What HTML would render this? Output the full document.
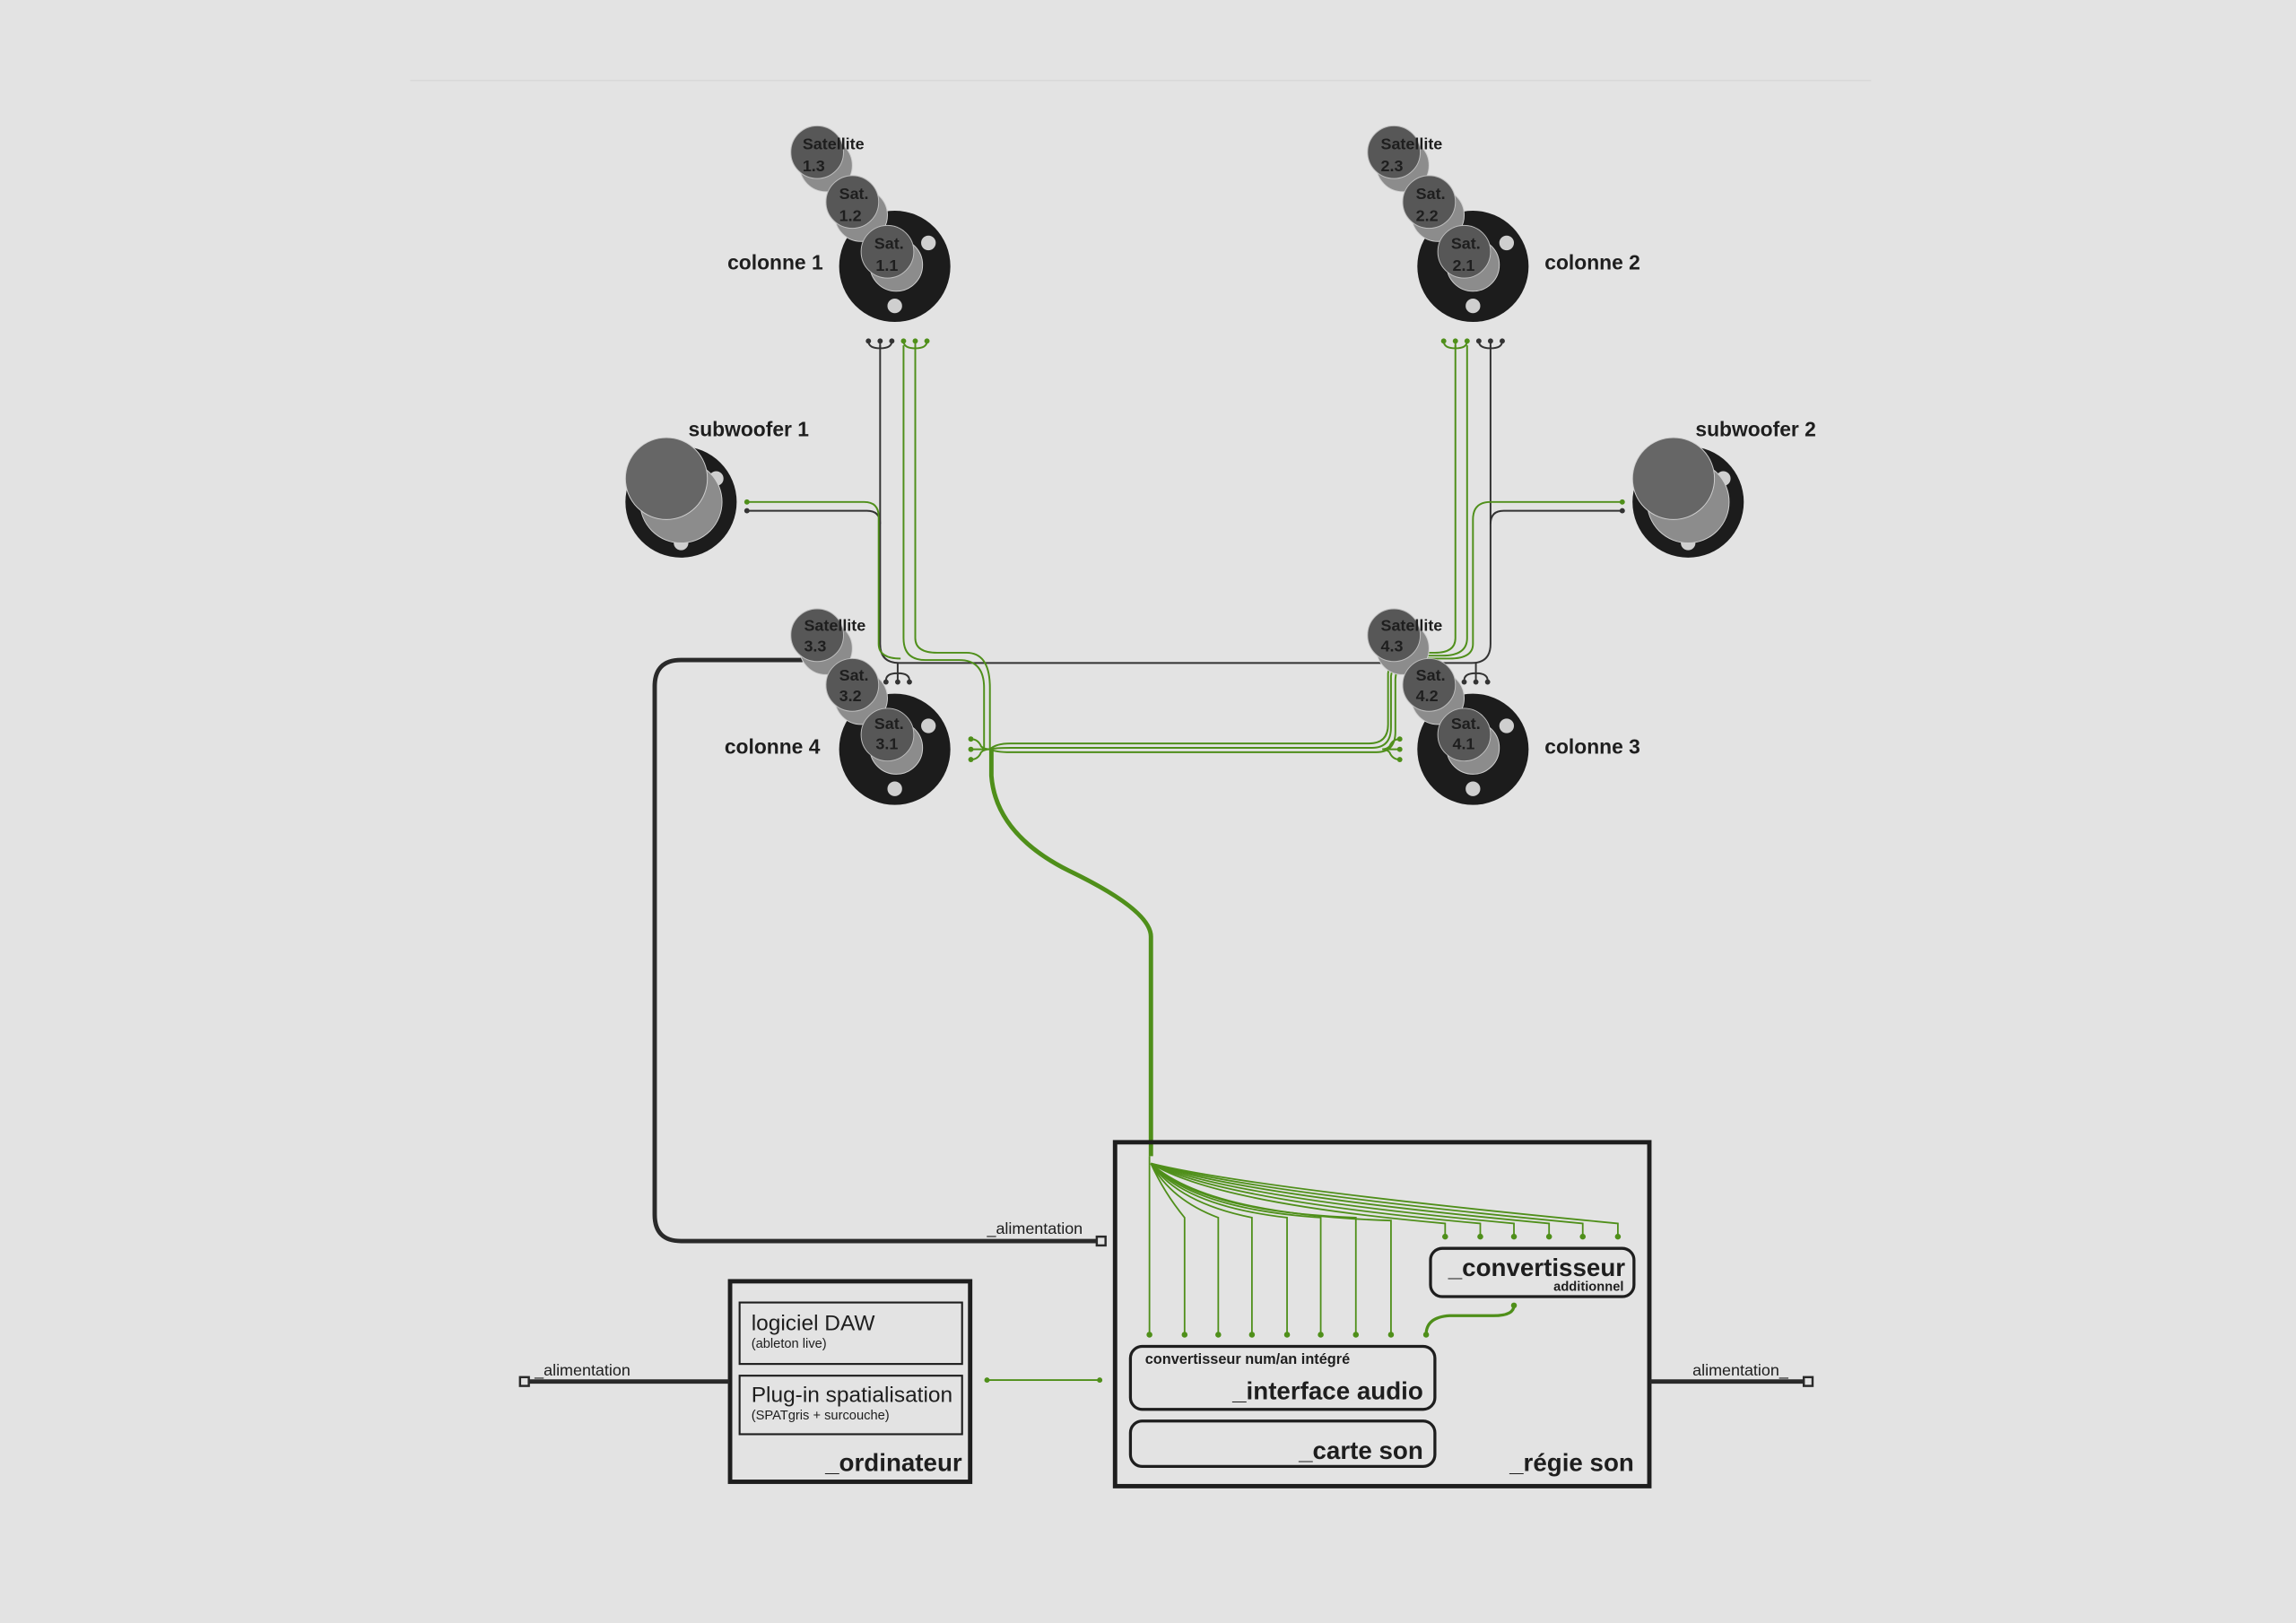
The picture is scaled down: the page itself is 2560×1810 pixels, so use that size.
<!DOCTYPE html>
<html><head><meta charset="utf-8"><style>
html,body{margin:0;padding:0;background:#e3e3e3;}
svg{display:block;}
text{font-family:"Liberation Sans",sans-serif;fill:#1e1e1e;}
.b{font-weight:bold;}
</style></head><body>
<svg width="2560" height="1810" viewBox="0 0 1568 1109" xmlns="http://www.w3.org/2000/svg">
<rect width="1568" height="1109" fill="#e3e3e3"/>
<line x1="280" y1="55" x2="1278" y2="55" stroke="#d9d9d9" stroke-width="1"/>

<defs>
<g id="col">
  <circle cx="0" cy="0" r="38" fill="#1c1c1c"/>
  <circle cx="23" cy="-16" r="5" fill="#cfcfcf"/>
  <circle cx="0" cy="27" r="5" fill="#cfcfcf"/>
</g>
<g id="sat">
  <circle cx="6" cy="9" r="18" fill="#8c8c8c" stroke="#cfcfcf" stroke-width="0.6"/>
  <circle cx="0" cy="0" r="18" fill="#575757" stroke="#bdbdbd" stroke-width="0.6"/>
</g>
<g id="sub">
  <circle cx="0" cy="0" r="38" fill="#1c1c1c"/>
  <circle cx="24" cy="-16" r="5" fill="#cfcfcf"/>
  <circle cx="0" cy="28" r="5" fill="#cfcfcf"/>
  <circle cx="0" cy="0" r="28" fill="#8c8c8c" stroke="#cfcfcf" stroke-width="0.6"/>
  <circle cx="-10" cy="-16" r="28" fill="#666" stroke="#cfcfcf" stroke-width="0.6"/>
</g>
</defs>

<!-- dark wiring -->
<g fill="none" stroke="#333" stroke-width="1.2">
  <path d="M601 236 V440 Q601 453 614 453 H1005 Q1018 453 1018 440 V236"/>
  <path d="M510 349 H592 Q601 349 601 358"/>
  <path d="M1108 349 H1027 Q1018 349 1018 358"/>
  <path d="M593 233 Q593 238 601 238 Q609 238 609 233 M601 233 V238"/>
  <path d="M1010 233 Q1010 238 1018 238 Q1026 238 1026 233 M1018 233 V238"/>
  <path d="M613 453 V460 M605 465 Q605 460 613 460 Q621 460 621 465 M613 460 V465"/>
  <path d="M1008 453 V460 M1000 465 Q1000 460 1008 460 Q1016 460 1016 465 M1008 460 V465"/>
</g>
<g fill="#333">
  <circle cx="593" cy="233" r="1.8"/><circle cx="601" cy="233" r="1.8"/><circle cx="609" cy="233" r="1.8"/>
  <circle cx="1010" cy="233" r="1.8"/><circle cx="1018" cy="233" r="1.8"/><circle cx="1026" cy="233" r="1.8"/>
  <circle cx="605" cy="466" r="1.8"/><circle cx="613" cy="466" r="1.8"/><circle cx="621" cy="466" r="1.8"/>
  <circle cx="1000" cy="466" r="1.8"/><circle cx="1008" cy="466" r="1.8"/><circle cx="1016" cy="466" r="1.8"/>
  <circle cx="510" cy="349" r="1.8"/><circle cx="1108" cy="349" r="1.8"/>
</g>

<!-- thick power loop -->
<path d="M548 451 H465 Q447 451 447 469 V830 Q447 848 465 848 H750" fill="none" stroke="#2a2a2a" stroke-width="3"/>
<rect x="749" y="845" width="6" height="6" fill="#e3e3e3" stroke="#2a2a2a" stroke-width="1.5"/>
<text x="674" y="843" font-size="11">_alimentation</text>

<!-- green wiring -->
<g fill="none" stroke="#4f8f1a" stroke-width="1.2">
  <path d="M625 236 V436 Q625 446 640 446 H660 Q676 446 676 470 V512"/>
  <path d="M617 236 V436 Q617 451 632 451 H655 Q672 451 672 470 V512"/>
  <path d="M510 343 H590 Q600 343 600 353 V440 Q600 450 615 450" />
  <path d="M617 233 Q617 238 625 238 Q633 238 633 233 M625 233 V238"/>
  <path d="M986 233 Q986 238 994 238 Q1002 238 1002 233 M994 233 V238"/>
  <path d="M994 236 V436 Q994 446 980 446 H960 Q950 446 948 460 V495 Q948 508 935 508 H690 Q680 508 676 512"/>
  <path d="M1002 236 V436 Q1002 448 985 448 H962 Q952 448 950 462 V497 Q950 511 937 511 H690 Q680 511 676 512"/>
  <path d="M1108 343 H1018 Q1006 343 1006 355 V440 Q1006 450 990 450 H965 Q954 450 953 464 V500 Q953 514 940 514 H690 Q680 514 676 512"/>
  <path d="M663 505 Q668 505 670 510 Q672 512 676 512 M663 512 H676 M663 519 Q668 519 670 514 Q672 512 676 512"/>
  <path d="M956 505 Q951 505 949 510 Q947 512 944 512 M956 512 H944 M956 519 Q951 519 949 514 Q947 512 944 512"/>
</g>
<g fill="#4f8f1a">
  <circle cx="617" cy="233" r="1.8"/><circle cx="625" cy="233" r="1.8"/><circle cx="633" cy="233" r="1.8"/>
  <circle cx="986" cy="233" r="1.8"/><circle cx="994" cy="233" r="1.8"/><circle cx="1002" cy="233" r="1.8"/>
  <circle cx="663" cy="505" r="1.8"/><circle cx="663" cy="512" r="1.8"/><circle cx="663" cy="519" r="1.8"/>
  <circle cx="956" cy="505" r="1.8"/><circle cx="956" cy="512" r="1.8"/><circle cx="956" cy="519" r="1.8"/>
  <circle cx="510" cy="343" r="1.8"/><circle cx="1108" cy="343" r="1.8"/>
</g>
<!-- trunk -->
<path d="M677 512 V530 Q680 570 730 595 Q786 622 786 640 V790" fill="none" stroke="#4f8f1a" stroke-width="3"/>
<g fill="none" stroke="#4f8f1a" stroke-width="1.1">
  <path d="M785 790 V912"/>
  <path d="M786 795 Q795 815 809 832 V912"/>
  <path d="M786 795 Q800 820 832 832 V912"/>
  <path d="M786 795 Q805 822 855 832 V912"/>
  <path d="M786 795 Q810 824 879 832 V912"/>
  <path d="M786 795 Q815 826 902 832 V912"/>
  <path d="M786 795 Q820 828 926 832 V912"/>
  <path d="M786 795 Q825 830 950 834 V912"/>
  <path d="M786 795 Q830 822 987 836 V845"/>
  <path d="M786 795 Q835 820 1011 836 V845"/>
  <path d="M786 795 Q840 818 1034 836 V845"/>
  <path d="M786 795 Q845 816 1058 836 V845"/>
  <path d="M786 795 Q850 814 1081 836 V845"/>
  <path d="M786 795 Q855 812 1105 836 V845"/>
  <path d="M974 912 Q974 900 990 899 H1020 Q1034 899 1034 892" stroke-width="2"/>
</g>
<g fill="#4f8f1a">
  <circle cx="785" cy="912" r="2"/><circle cx="809" cy="912" r="2"/><circle cx="832" cy="912" r="2"/><circle cx="855" cy="912" r="2"/>
  <circle cx="879" cy="912" r="2"/><circle cx="902" cy="912" r="2"/><circle cx="926" cy="912" r="2"/><circle cx="950" cy="912" r="2"/>
  <circle cx="974" cy="912" r="2"/>
  <circle cx="987" cy="845" r="2"/><circle cx="1011" cy="845" r="2"/><circle cx="1034" cy="845" r="2"/>
  <circle cx="1058" cy="845" r="2"/><circle cx="1081" cy="845" r="2"/><circle cx="1105" cy="845" r="2"/>
  <circle cx="1034" cy="892" r="2"/>
</g>

<!-- speakers -->
<use href="#col" x="611" y="182"/>
<use href="#col" x="1006" y="182"/>
<use href="#col" x="611" y="512"/>
<use href="#col" x="1006" y="512"/>
<use href="#sub" x="465" y="343"/>
<use href="#sub" x="1153" y="343"/>

<use href="#sat" x="558" y="104"/><use href="#sat" x="582" y="138"/><use href="#sat" x="606" y="172"/>
<use href="#sat" x="952" y="104"/><use href="#sat" x="976" y="138"/><use href="#sat" x="1000" y="172"/>
<use href="#sat" x="558" y="434"/><use href="#sat" x="582" y="468"/><use href="#sat" x="606" y="502"/>
<use href="#sat" x="952" y="434"/><use href="#sat" x="976" y="468"/><use href="#sat" x="1000" y="502"/>

<g class="b" font-size="11">
  <text x="548" y="102">Satellite</text><text x="548" y="117">1.3</text>
  <text x="573" y="136">Sat.</text><text x="573" y="151">1.2</text>
  <text x="597" y="170">Sat.</text><text x="598" y="185">1.1</text>
  <text x="943" y="102">Satellite</text><text x="943" y="117">2.3</text>
  <text x="967" y="136">Sat.</text><text x="967" y="151">2.2</text>
  <text x="991" y="170">Sat.</text><text x="992" y="185">2.1</text>
  <text x="549" y="431">Satellite</text><text x="549" y="445">3.3</text>
  <text x="573" y="465">Sat.</text><text x="573" y="479">3.2</text>
  <text x="597" y="498">Sat.</text><text x="598" y="512">3.1</text>
  <text x="943" y="431">Satellite</text><text x="943" y="445">4.3</text>
  <text x="967" y="465">Sat.</text><text x="967" y="479">4.2</text>
  <text x="991" y="498">Sat.</text><text x="992" y="512">4.1</text>
</g>
<g class="b" font-size="14">
  <text x="562" y="184" text-anchor="end">colonne 1</text>
  <text x="1055" y="184">colonne 2</text>
  <text x="560" y="515" text-anchor="end">colonne 4</text>
  <text x="1055" y="515">colonne 3</text>
  <text x="470" y="298">subwoofer 1</text>
  <text x="1158" y="298">subwoofer 2</text>
</g>

<!-- régie son -->
<rect x="761.5" y="780.5" width="365" height="235" fill="none" stroke="#1e1e1e" stroke-width="3"/>
<rect x="977" y="853" width="139" height="33" rx="8" fill="none" stroke="#1e1e1e" stroke-width="2"/>
<text class="b" x="1110" y="872" font-size="17" text-anchor="end">_convertisseur</text>
<text class="b" x="1109" y="882" font-size="9" text-anchor="end">additionnel</text>
<rect x="772" y="920" width="208" height="43" rx="8" fill="none" stroke="#1e1e1e" stroke-width="2"/>
<text class="b" x="782" y="932" font-size="10">convertisseur num/an intégré</text>
<text class="b" x="972" y="956" font-size="17" text-anchor="end">_interface audio</text>
<rect x="772" y="971" width="208" height="31" rx="8" fill="none" stroke="#1e1e1e" stroke-width="2"/>
<text class="b" x="972" y="997" font-size="17" text-anchor="end">_carte son</text>
<text class="b" x="1116" y="1005" font-size="17" text-anchor="end">_régie son</text>

<!-- ordinateur -->
<rect x="498.5" y="875.5" width="164" height="137" fill="none" stroke="#1e1e1e" stroke-width="3"/>
<rect x="505" y="890" width="152" height="42" fill="none" stroke="#1e1e1e" stroke-width="1.3"/>
<text x="513" y="909" font-size="15">logiciel DAW</text>
<text x="513" y="921" font-size="9">(ableton live)</text>
<rect x="505" y="940" width="152" height="40" fill="none" stroke="#1e1e1e" stroke-width="1.3"/>
<text x="513" y="958" font-size="15">Plug-in spatialisation</text>
<text x="513" y="970" font-size="9">(SPATgris + surcouche)</text>
<text class="b" x="657" y="1005" font-size="17" text-anchor="end">_ordinateur</text>

<line x1="674" y1="943" x2="751" y2="943" stroke="#4f8f1a" stroke-width="1.1"/>
<circle cx="674" cy="943" r="1.8" fill="#4f8f1a"/><circle cx="751" cy="943" r="1.8" fill="#4f8f1a"/>

<!-- alimentation -->
<line x1="361" y1="944" x2="498" y2="944" stroke="#2a2a2a" stroke-width="3"/>
<rect x="355" y="941" width="6" height="6" fill="#e3e3e3" stroke="#2a2a2a" stroke-width="1.5"/>
<text x="365" y="940" font-size="11">_alimentation</text>
<line x1="1127" y1="944" x2="1232" y2="944" stroke="#2a2a2a" stroke-width="3"/>
<rect x="1232" y="941" width="6" height="6" fill="#e3e3e3" stroke="#2a2a2a" stroke-width="1.5"/>
<text x="1156" y="940" font-size="11">alimentation_</text>
</svg>
</body></html>
